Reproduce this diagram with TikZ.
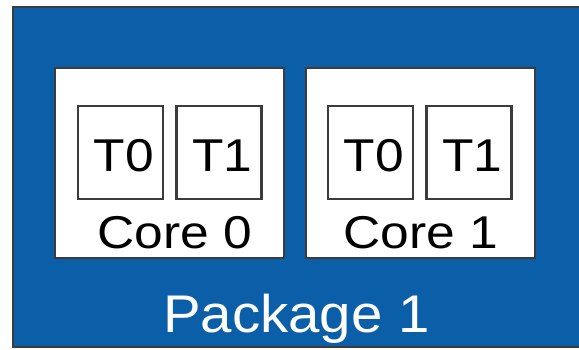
\documentclass[tikz,border=0pt]{standalone}
\usepackage{fontspec}
\setmainfont{Liberation Sans}
\usetikzlibrary{positioning}
\definecolor{pkgblue}{RGB}{11,94,168}
\definecolor{edgegray}{RGB}{60,60,60}

\begin{document}
\begin{tikzpicture}[x=1pt,y=-1pt,
    box/.style={draw=edgegray, line width=2.6pt, fill=white, inner sep=0pt},
    thread/.style={box, minimum width=85pt, minimum height=93pt},
    core/.style={box, minimum width=229pt, minimum height=190pt},
    lbl/.style={inner sep=0pt, anchor=base, font=\fontsize{46}{46}\selectfont, xscale=1.12}]

    \useasboundingbox (0,0) rectangle (579,349);

    \node(pkg)[draw=edgegray, line width=2.6pt, fill=pkgblue, minimum width=572pt, minimum height=340pt, inner sep=0pt] at (299,177){};

    \node(core0)[core] at (169.5,163){};
    \node(core1)[core] at (420.5,163){};

    \node(c0t0)[thread] at (120.5,152.5){};
    \node(c0t1)[thread, right=11pt of c0t0]{};
    \node(c1t0)[thread] at (370.5,152.5){};
    \node(c1t1)[thread, right=11pt of c1t0]{};

    % thread labels sit a little right of centre
    \node[lbl, xshift=3pt] at (c0t0 |- 0,171) {T0};
    \node[lbl, xshift=3pt] at (c0t1 |- 0,171) {T1};
    \node[lbl, xshift=3pt] at (c1t0 |- 0,171) {T0};
    \node[lbl, xshift=3pt] at (c1t1 |- 0,171) {T1};

    \node(core0lbl)[lbl] at (174.5,248){Core 0};
    \node(core1lbl)[lbl] at (421,248){Core 1};

    \node(pkglbl)[lbl, text=white, font=\fontsize{53}{53}\selectfont, xscale=0.95] at (296.5,332){Package 1};

\end{tikzpicture}
\end{document}
